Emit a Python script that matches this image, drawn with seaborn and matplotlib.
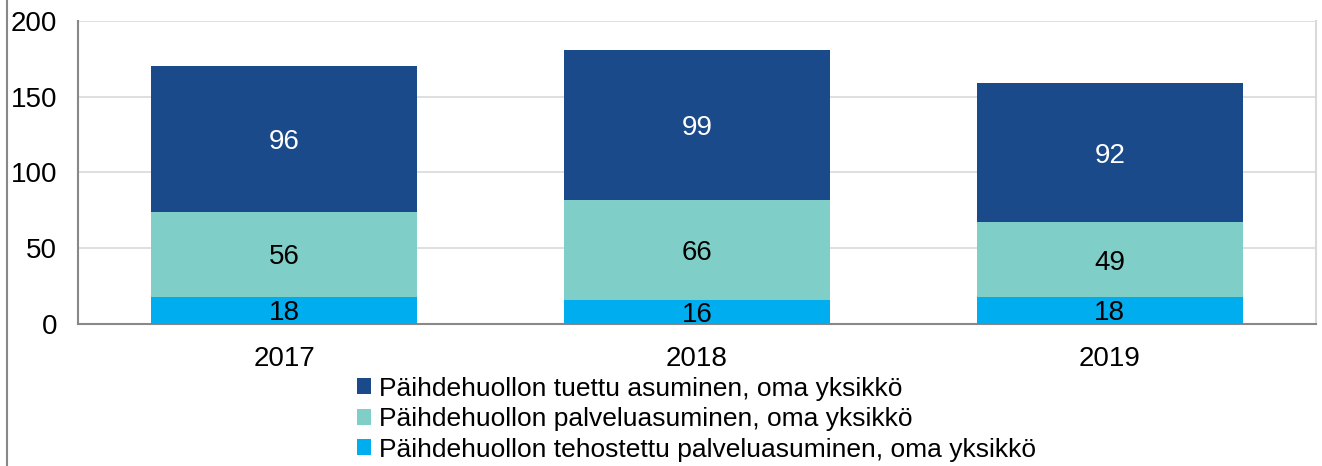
import numpy as np
import pandas as pd
import seaborn as sns
import matplotlib.pyplot as plt
from matplotlib.patches import Patch
from matplotlib.lines import Line2D

years = ["2017", "2018", "2019"]
tehostettu = [18, 16, 18]
palvelu = [56, 66, 49]
tuettu = [96, 99, 92]
series_names = [
    "Päihdehuollon tuettu asuminen, oma yksikkö",
    "Päihdehuollon palveluasuminen, oma yksikkö",
    "Päihdehuollon tehostettu palveluasuminen, oma yksikkö",
]
colors = ["#1B4A8A", "#7FCFC8", "#00AEEF"]
label_colors = ["white", "black", "black"]
yticks = [0, 50, 100, 150, 200]

sns.set_style("white")
plt.rcParams["font.family"] = ["Liberation Sans", "DejaVu Sans"]
plt.rcParams["text.color"] = "black"

df = pd.DataFrame({"year": years, "teh": tehostettu, "pal": palvelu, "tue": tuettu})
df["c1"] = df["teh"]
df["c2"] = df["teh"] + df["pal"]
df["c3"] = df["c2"] + df["tue"]

fig = plt.figure(figsize=(13.22, 4.66), dpi=100)
ax = fig.add_axes([0.059, 0.305, 0.9365, 0.65])

# stacked look: draw cumulative totals from tallest to shortest
for col, c in zip(["c3", "c2", "c1"], colors):
    sns.barplot(data=df, x="year", y=col, color=c, width=0.645, saturation=1,
                linewidth=0, edgecolor="none", ax=ax, zorder=3)

# value labels centred in each segment
for i in range(len(years)):
    segs = [(df["c2"][i], tuettu[i]), (df["c1"][i], palvelu[i]), (0, tehostettu[i])]
    for (bot, val), tc in zip(segs, label_colors):
        ax.text(i, bot + val / 2, str(val), ha="center", va="center_baseline",
                fontsize=20, color=tc, zorder=4)

ax.set_ylim(0, 200)
ax.set_xlim(-0.5, 2.5)
ax.set_yticks(yticks)
ax.yaxis.grid(True, color="#d9d9d9", linewidth=1.2, zorder=0)
ax.set_axisbelow(True)
ax.set_xlabel("")
ax.set_ylabel("")
ax.tick_params(axis="both", labelsize=20, length=0, colors="black")
ax.tick_params(axis="y", pad=15)
ax.tick_params(axis="x", pad=16)
for s in ["left", "bottom"]:
    ax.spines[s].set_color("#888888")
    ax.spines[s].set_linewidth(1.5)
ax.spines["right"].set_color("#d9d9d9")
ax.spines["right"].set_linewidth(1.5)
ax.spines["top"].set_visible(False)

handles = [Patch(facecolor=c, edgecolor="none") for c in colors]
fig.legend(handles, series_names, loc="upper left", bbox_to_anchor=(0.270, 0.192),
           frameon=False, fontsize=19, labelcolor="black", handlelength=0.55, handleheight=0.55,
           handletextpad=0.3, labelspacing=0.25, borderpad=0, borderaxespad=0)

fig.add_artist(Line2D([0.0055, 0.0055], [0, 1], color="#888888", linewidth=1.5))

fig.savefig("out.png", dpi=100)
